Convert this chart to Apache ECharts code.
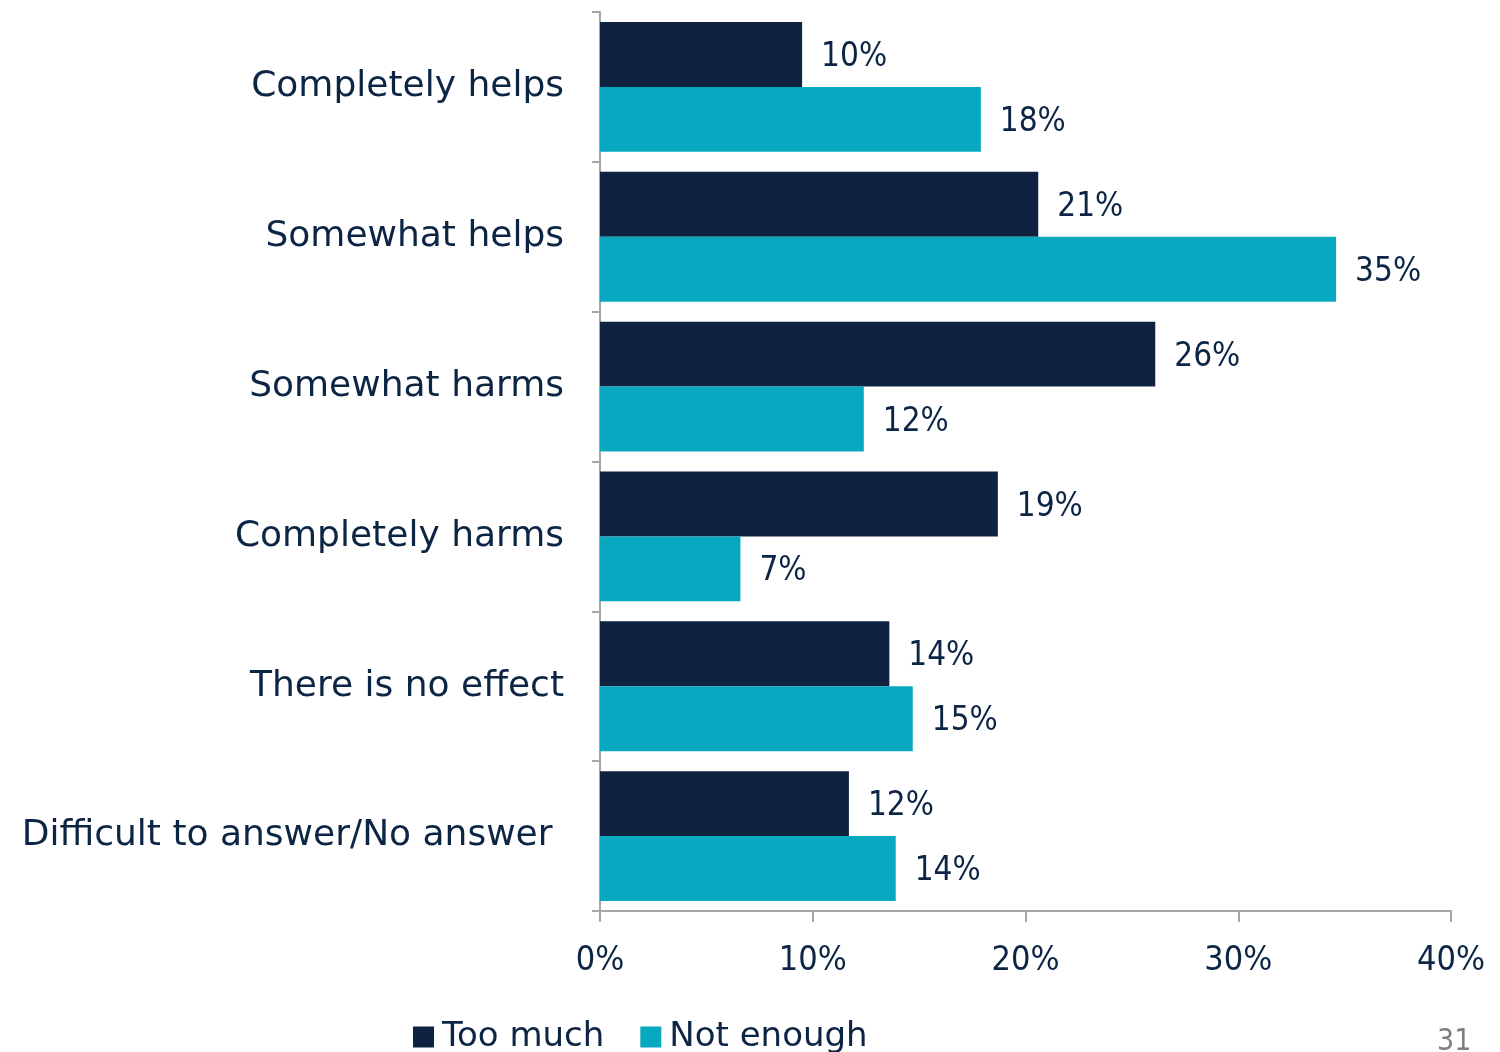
<!DOCTYPE html>
<html><head><meta charset="utf-8">
<script src="https://cdn.jsdelivr.net/npm/echarts@6/dist/echarts.min.js"></script>
<style>html,body{margin:0;padding:0;background:#fff}#c{width:1500px;height:1052px}</style>
</head><body><div id="c"></div>
<script>
const categories = ["Completely helps","Somewhat helps","Somewhat harms","Completely harms","There is no effect","Difficult to answer/No answer "];
const tooMuch = [9.5, 20.6, 26.1, 18.7, 13.6, 11.7];
const notEnough = [17.9, 34.6, 12.4, 6.6, 14.7, 13.9];
const tooMuchLabels = ["10%","21%","26%","19%","14%","12%"];
const notEnoughLabels = ["18%","35%","12%","7%","15%","14%"];
const xTicks = [0,10,20,30,40];

const FONT = '"DejaVu Sans",sans-serif';
const NARROW = '"DejaVu Sans Condensed",sans-serif';
const TXT = '#0d2545';
const chart = echarts.init(document.getElementById('c'));
chart.setOption({
  animation:false,
  textStyle:{fontFamily:FONT},
  grid:{left:600,right:49,top:12,bottom:141,containLabel:false},
  legend:{
    left:408, top:1015, itemWidth:21, itemHeight:21, itemGap:36, icon:'rect',
    textStyle:{fontSize:34,color:TXT,fontFamily:FONT,padding:[0,0,0,3]},
    data:['Too much','Not enough']
  },
  xAxis:{
    type:'value', min:0, max:40, interval:10,
    axisLine:{show:true,lineStyle:{color:'#a6a6a6',width:2}},
    axisTick:{show:true,length:11,lineStyle:{color:'#a6a6a6',width:2}},
    splitLine:{show:false},
    axisLabel:{formatter:v=>v+'%',fontSize:34,color:TXT,margin:33,fontFamily:NARROW}
  },
  yAxis:{
    type:'category', data:categories, inverse:true,
    axisLine:{show:true,lineStyle:{color:'#a6a6a6',width:2}},
    axisTick:{show:true,length:8,lineStyle:{color:'#a6a6a6',width:2}},
    axisLabel:{fontSize:36,color:TXT,margin:36,fontFamily:FONT}
  },
  series:[
    {name:'Too much',type:'bar',data:tooMuch,barGap:'0%',barCategoryGap:'13.3%',
     itemStyle:{color:'#0f2340'},
     label:{show:true,position:'right',distance:19,offset:[0,3],fontSize:33,color:TXT,fontFamily:NARROW,
       formatter:p=>tooMuchLabels[p.dataIndex]}},
    {name:'Not enough',type:'bar',data:notEnough,barGap:'0%',barCategoryGap:'13.3%',
     itemStyle:{color:'#08a8c0'},
     label:{show:true,position:'right',distance:19,offset:[0,3],fontSize:33,color:TXT,fontFamily:NARROW,
       formatter:p=>notEnoughLabels[p.dataIndex]}}
  ],
  graphic:[{type:'text',left:1437,top:1027,style:{text:'31',fontSize:30,fill:'#7f7f7f',fontFamily:NARROW}}]
});
</script></body></html>
